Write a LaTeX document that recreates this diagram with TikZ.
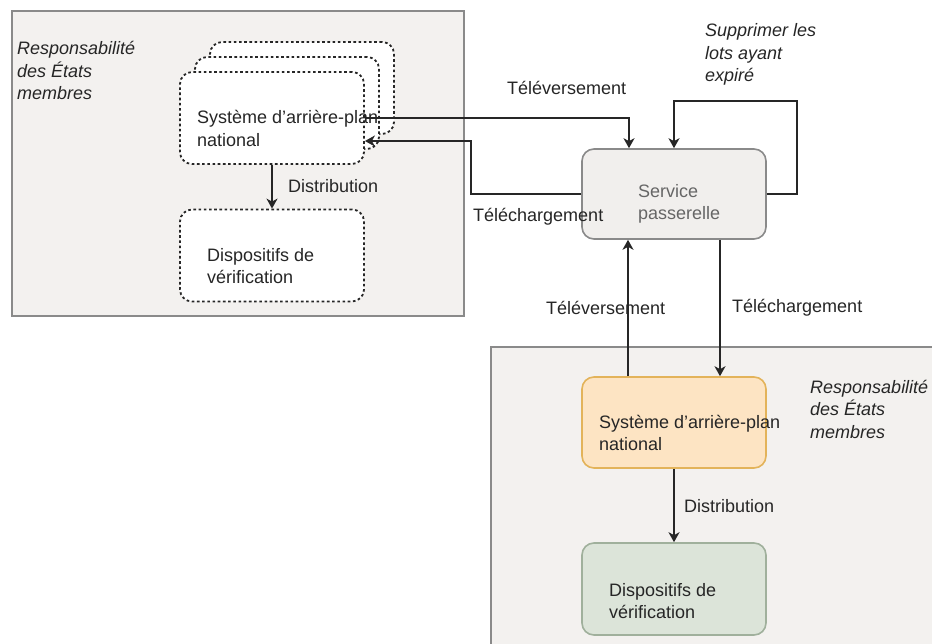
\documentclass[tikz,border=0pt]{standalone}
\usepackage{fontspec}
\setmainfont{Liberation Sans}
\usepackage{xcolor}
\usetikzlibrary{arrows.meta}

\definecolor{panelfill}{HTML}{F3F1EF}
\definecolor{panelline}{HTML}{8A8A8A}
\definecolor{gwfill}{HTML}{F1EFED}
\definecolor{orfill}{HTML}{FDE4C3}
\definecolor{orline}{HTML}{E3B35A}
\definecolor{grfill}{HTML}{DCE4D9}
\definecolor{grline}{HTML}{A0B09C}
\definecolor{inkc}{HTML}{262626}

\tikzset{
    panel/.style={fill=panelfill, draw=panelline, line width=1.8pt},
    box/.style={rectangle, rounded corners=12pt, minimum width=184pt, minimum height=92pt, line width=1.6pt},
    dotbox/.style={box, draw=black!85, fill=white, line width=1.8pt, dash pattern=on 2.6pt off 2.6pt},
    txt/.style={inner sep=0pt, anchor=west, align=left, text=inkc, font=\fontsize{18}{22.5}\selectfont},
    flow/.style={draw=black!85, line width=1.8pt, -{Stealth[length=10pt,width=11pt,inset=3pt]}},
}

\begin{document}
\begin{tikzpicture}[x=1pt, y=-1pt]
    \useasboundingbox[fill=white] (0,0) rectangle (932,644);

    % Member state areas
    \draw[panel] (12,11) rectangle (464,316);
    \draw[panel] (491,347) rectangle (945,660);

    % Left side: stacked national back-ends
    \node[dotbox] (natA) at (302,88) {};
    \node[dotbox] (natB) at (287,103) {};
    \node[dotbox] (natC) at (272,118) {};
    \node[dotbox] (devL) at (272,255.5) {};

    % Gateway
    \node[box, draw=panelline, fill=gwfill, minimum width=184pt, minimum height=90pt] (gw) at (674,194) {};

    % Right side: national back-end and devices
    \node[box, draw=orline, fill=orfill, minimum height=91pt] (natR) at (674,422.5) {};
    \node[box, draw=grline, fill=grfill] (devR) at (674,589) {};

    % Connectors
    \draw[flow] (natC.east) -| ([xshift=-45pt]gw.north);
    \draw[flow] (gw.west) -- ++(-110,0) |- ([yshift=-23pt]natC.east);
    \draw[flow] (gw.east) -- ++(30,0) |- ([yshift=47pt]gw.north) -- (gw.north);
    \draw[flow] (natC.south) -- (devL.north);
    \draw[flow] ([xshift=-46pt]natR.north) -- ([xshift=-46pt]natR.north |- gw.south);
    \draw[flow] ([xshift=46pt]gw.south) -- ([xshift=46pt]gw.south |- natR.north);
    \draw[flow] (natR.south) -- (devR.north);

    % Labels
    \node[txt, font=\fontsize{18}{22.5}\selectfont\itshape] (respL) at (17,70.5) {Responsabilité\\des États\\membres};
    \node[txt] (natCtxt) at (197,128.5) {Système d’arrière-plan\\national};
    \node[txt] (devLtxt) at (207,266) {Dispositifs de\\vérification};
    \node[txt] (distL) at (288,186) {Distribution};
    \node[txt] (upTop) at (507,88) {Téléversement};
    \node[txt] (downLeft) at (473,217) {Téléchargement};
    \node[txt, font=\fontsize{18}{22.5}\selectfont\itshape] (purge) at (705,54.5) {Supprimer les\\lots ayant\\expiré};
    \node[txt, text=black!60] (gwtxt) at (638,204) {Service\\passerelle};
    \node[txt] (upBot) at (546,308) {Téléversement};
    \node[txt] (downBot) at (732,308) {Téléchargement};
    \node[txt, font=\fontsize{18}{22.5}\selectfont\itshape] (respR) at (810,409) {Responsabilité\\des États\\membres};
    \node[txt] (natRtxt) at (599,433) {Système d’arrière-plan\\national};
    \node[txt] (distR) at (684,506) {Distribution};
    \node[txt] (devRtxt) at (609,601) {Dispositifs de\\vérification};
\end{tikzpicture}
\end{document}
